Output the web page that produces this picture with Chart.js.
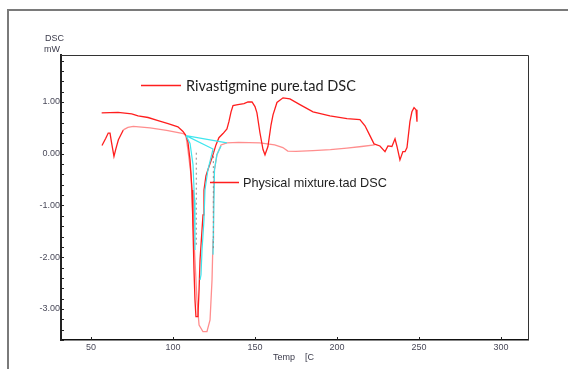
<!DOCTYPE html>
<html>
<head>
<meta charset="utf-8">
<script src="https://cdn.jsdelivr.net/npm/chart.js@4.4.1/dist/chart.umd.min.js"></script>
<style>
  html, body { margin: 0; padding: 0; background: #fff; }
  #wrap { width: 568px; height: 369px; position: relative; }
</style>
</head>
<body>
<div id="wrap"><canvas id="c" width="568" height="369"></canvas></div>
<script>
// Temperature axis (°C) and heat flow axis (mW)
const xTicks = [50, 100, 150, 200, 250, 300];
const yTicks = [1, 0, -1, -2, -3];

// Rivastigmine pure.tad DSC
const rivaT = [56.5, 66.5, 74.8, 78.7, 84.8, 90.9, 97.0, 103.0, 106.1, 107.9, 109.1, 110.4, 111.6, 112.2, 112.8, 113.4, 114.0, 115.2, 115.9, 116.5, 117.1, 118.3, 118.9, 120.1, 121.3, 123.8, 126.2, 128.0, 130.5, 132.9, 134.1, 135.4, 136.6, 139.6, 143.3, 145.7, 148.2, 150.0, 151.2, 153.0, 154.9, 156.1, 157.9, 159.8, 161.0, 163.4, 167.1, 171.3, 177.4, 185.4, 195.7, 206.1, 214.0, 217.1, 220.1, 222.6, 226.2, 229.3, 231.1, 233.5, 235.4, 236.6, 238.4, 240.2, 241.5, 242.7, 244.5, 245.7, 247.0, 248.2, 248.8];
const rivaMW = [0.79, 0.80, 0.77, 0.73, 0.70, 0.64, 0.58, 0.52, 0.43, 0.35, 0.23, -0.12, -0.70, -1.47, -2.24, -2.82, -3.15, -3.15, -2.63, -2.05, -1.76, -1.18, -0.70, -0.43, -0.31, -0.08, 0.17, 0.31, 0.39, 0.48, 0.62, 0.81, 0.93, 0.95, 0.97, 1.00, 1.00, 0.91, 0.79, 0.41, 0.08, -0.02, 0.14, 0.56, 0.75, 0.99, 1.08, 1.06, 0.95, 0.81, 0.73, 0.68, 0.66, 0.54, 0.35, 0.19, 0.15, 0.04, 0.15, 0.14, 0.29, 0.14, -0.12, 0.04, 0.04, 0.12, 0.62, 0.81, 0.89, 0.85, 0.62];

// Physical mixture.tad DSC
const mixT = [56.7, 59.0, 60.5, 61.6, 62.5, 64.0, 65.2, 66.7, 69.7, 72.5, 75.8, 86.0, 96.1, 106.3, 107.9, 109.1, 111.0, 112.2, 113.4, 114.6, 115.9, 118.3, 120.7, 122.6, 123.8, 124.4, 124.7, 125.3, 126.8, 129.3, 132.9, 140.0, 153.0, 162.0, 167.0, 170.0, 175.0, 185.4, 196.0, 206.0, 215.0, 223.0];
const mixMW = [0.16, 0.30, 0.40, 0.40, 0.22, -0.05, 0.10, 0.27, 0.46, 0.51, 0.53, 0.50, 0.45, 0.39, 0.35, 0.08, -0.41, -1.28, -2.05, -2.82, -3.31, -3.44, -3.44, -3.21, -2.44, -1.66, -0.89, -0.31, -0.02, 0.17, 0.21, 0.22, 0.21, 0.17, 0.12, 0.05, 0.045, 0.06, 0.08, 0.11, 0.14, 0.17];

// Peak evaluation construction lines (null separates the pieces)
const evalT = [107.9, 132.9, null, 107.9, 124.4, 121.3, 119.5, 118.9, 117.7, 117.1, 116.5, null, 107.9, 110.4, 112.2, 113.1, 113.4, null, 124.4, 125.3, 126.8, 129.3];
const evalMW = [0.35, 0.21, null, 0.35, 0.09, -0.31, -0.70, -1.28, -1.86, -2.34, -2.44, null, 0.35, 0.20, -0.21, -0.89, -1.86, null, -1.95, -0.31, -0.02, 0.15];

// Dashed onset / endset markers
const markT = [114.2, 114.2, null, 124.6, 124.6];
const markMW = [0.02, -1.80, null, 0.05, -1.85];

const pts = (xs, ys) => xs.map((x, i) => ({ x: x === null ? NaN : x, y: ys[i] }));

const RED = '#ff1e1e';
const PINK = '#ff8e8e';
const CYAN = '#3fe6ee';

const AREA = { left: 61, top: 55, right: 528, bottom: 340 };

const decor = {
  id: 'decor',
  beforeDraw(chart) {
    const ctx = chart.ctx;
    ctx.save();
    ctx.fillStyle = '#fff';
    ctx.fillRect(0, 0, chart.width, chart.height);
    // outer frame
    ctx.strokeStyle = '#7a7a7a';
    ctx.lineWidth = 2;
    ctx.beginPath();
    ctx.moveTo(8, 369); ctx.lineTo(8, 10); ctx.lineTo(568, 10);
    ctx.stroke();
    ctx.restore();
  },
  afterDraw(chart) {
    const ctx = chart.ctx;
    const a = chart.chartArea;
    const xs = chart.scales.x, ys = chart.scales.y;
    ctx.save();
    // plot frame top and right
    ctx.strokeStyle = '#333';
    ctx.lineWidth = 1;
    ctx.beginPath();
    ctx.moveTo(a.left, a.top + 0.5); ctx.lineTo(a.right + 0.5, a.top + 0.5); ctx.lineTo(a.right + 0.5, a.bottom);
    ctx.stroke();
    // inward tick marks
    ctx.strokeStyle = '#222';
    ctx.beginPath();
    for (let v = -3.6; v <= 1.81; v += 0.2) {
      const y = Math.round(ys.getPixelForValue(v)) + 0.5;
      ctx.moveTo(a.left, y); ctx.lineTo(a.left + 3, y);
    }
    xTicks.forEach(v => {
      const x = Math.round(xs.getPixelForValue(v)) + 0.5;
      ctx.moveTo(x, a.bottom); ctx.lineTo(x, a.bottom - 3);
    });
    ctx.stroke();
    // axis captions
    ctx.fillStyle = '#3a3a4a';
    ctx.font = '9px "Liberation Sans", Arial, sans-serif';
    ctx.textBaseline = 'middle';
    ctx.textAlign = 'left';
    ctx.fillText('DSC', 45, 39);
    ctx.fillText('mW', 44, 49.5);
    ctx.fillText('Temp', 273, 358);
    ctx.fillText('[C', 305, 358);
    // series labels
    ctx.strokeStyle = RED;
    ctx.lineWidth = 1.4;
    ctx.beginPath();
    ctx.moveTo(141, 85.5); ctx.lineTo(181, 85.5);
    ctx.moveTo(210, 182.5); ctx.lineTo(239, 182.5);
    ctx.stroke();
    ctx.fillStyle = '#1e1e1e';
    ctx.textBaseline = 'alphabetic';
    const fit = (txt, family, size, width) => {
      ctx.font = size + 'px ' + family;
      const w = ctx.measureText(txt).width;
      return size * width / w;
    };
    const t1 = 'Rivastigmine pure.tad DSC';
    const s1 = fit(t1, 'Lato, sans-serif', 14, 170);
    ctx.font = s1.toFixed(2) + 'px Lato, sans-serif';
    ctx.fillText(t1, 186, 90.5);
    const t2 = 'Physical mixture.tad DSC';
    const s2 = fit(t2, '"Liberation Sans", Arial, sans-serif', 12, 144);
    ctx.font = s2.toFixed(2) + 'px "Liberation Sans", Arial, sans-serif';
    ctx.fillText(t2, 243, 187);
    ctx.restore();
  }
};

new Chart(document.getElementById('c'), {
  type: 'line',
  data: {
    datasets: [
      {
        label: 'marks', data: pts(markT, markMW), borderColor: '#8a8a8a', borderWidth: 1,
        borderDash: [2, 3], pointRadius: 0, spanGaps: false, order: 0
      },
      {
        label: 'eval', data: pts(evalT, evalMW), borderColor: CYAN, borderWidth: 1.2,
        pointRadius: 0, spanGaps: false, order: 1
      },
      {
        label: 'Rivastigmine pure.tad DSC', data: pts(rivaT, rivaMW), borderColor: RED, borderWidth: 1.3,
        pointRadius: 0, order: 2
      },
      {
        label: 'Physical mixture.tad DSC', data: pts(mixT, mixMW), borderColor: PINK, borderWidth: 1.3,
        pointRadius: 0, order: 3,
        segment: { borderColor: c => (c.p0.parsed.x < 68 ? RED : PINK) }
      }
    ]
  },
  options: {
    responsive: false,
    animation: false,
    events: [],
    layout: { padding: { top: AREA.top, right: 568 - AREA.right, left: 0, bottom: 0 } },
    plugins: { legend: { display: false }, tooltip: { enabled: false } },
    scales: {
      x: {
        type: 'linear', min: 31.7, max: 316.5,
        afterBuildTicks: s => { s.ticks = xTicks.map(v => ({ value: v })); },
        afterFit: s => { s.height = 369 - AREA.bottom; },
        grid: { display: false, drawTicks: false },
        border: { display: true, color: '#111', width: 1.5 },
        ticks: {
          color: '#4a4a5a', padding: 2, maxRotation: 0,
          font: { family: '"Liberation Sans", Arial, sans-serif', size: 9 },
          callback: v => String(v)
        }
      },
      y: {
        type: 'linear', min: -3.6, max: 1.908,
        afterBuildTicks: s => { s.ticks = yTicks.map(v => ({ value: v })); },
        afterFit: s => { s.width = AREA.left; },
        grid: { display: false, drawTicks: false },
        border: { display: true, color: '#222', width: 2 },
        ticks: {
          color: '#4a4a5a', padding: 1,
          font: { family: '"Liberation Sans", Arial, sans-serif', size: 9 },
          callback: v => Number(v).toFixed(2)
        }
      }
    }
  },
  plugins: [decor]
});
</script>
</body>
</html>
